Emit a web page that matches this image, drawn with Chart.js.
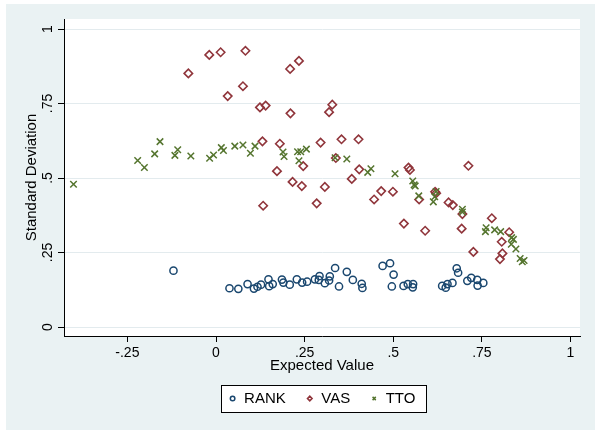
<!DOCTYPE html>
<html>
<head>
<meta charset="utf-8">
<script src="https://cdn.jsdelivr.net/npm/chart.js@4.4.1/dist/chart.umd.min.js"></script>
<style>
  html, body { margin: 0; padding: 0; background: #fff; }
</style>
</head>
<body>
<canvas id="chart" width="600" height="436"></canvas>
<script>
// ===== Data =====
const xTicks = [-0.25, 0, 0.25, 0.5, 0.75, 1];
const yTicks = [0, 0.25, 0.5, 0.75, 1];

const rankX = [-0.120, 0.038, 0.063, 0.089, 0.107, 0.117, 0.127, 0.148, 0.150, 0.160, 0.186, 0.190, 0.208, 0.228, 0.243, 0.257, 0.279, 0.292, 0.290, 0.307, 0.319, 0.321, 0.336, 0.347, 0.369, 0.386, 0.411, 0.413, 0.470, 0.491, 0.501, 0.496, 0.529, 0.541, 0.556, 0.555, 0.638, 0.648, 0.653, 0.667, 0.679, 0.683, 0.709, 0.720, 0.737, 0.738, 0.754];
const rankY = [0.189, 0.130, 0.128, 0.144, 0.129, 0.135, 0.142, 0.160, 0.137, 0.144, 0.159, 0.149, 0.142, 0.160, 0.149, 0.152, 0.160, 0.171, 0.158, 0.147, 0.156, 0.170, 0.198, 0.136, 0.185, 0.158, 0.145, 0.131, 0.205, 0.214, 0.176, 0.136, 0.138, 0.144, 0.144, 0.133, 0.138, 0.132, 0.144, 0.148, 0.197, 0.182, 0.155, 0.165, 0.158, 0.139, 0.148];

const vasX = [-0.078, -0.019, 0.013, 0.083, 0.033, 0.076, 0.124, 0.140, 0.209, 0.234, 0.210, 0.131, 0.180, 0.172, 0.216, 0.242, 0.133, 0.319, 0.328, 0.295, 0.354, 0.402, 0.338, 0.246, 0.404, 0.383, 0.543, 0.547, 0.712, 0.307, 0.466, 0.499, 0.618, 0.621, 0.284, 0.446, 0.573, 0.656, 0.668, 0.695, 0.530, 0.590, 0.693, 0.778, 0.726, 0.806, 0.827, 0.808, 0.801];
const vasY = [0.851, 0.913, 0.922, 0.927, 0.775, 0.808, 0.737, 0.743, 0.866, 0.893, 0.717, 0.623, 0.615, 0.523, 0.487, 0.473, 0.407, 0.721, 0.746, 0.619, 0.630, 0.630, 0.567, 0.540, 0.529, 0.497, 0.535, 0.527, 0.541, 0.470, 0.456, 0.454, 0.454, 0.449, 0.415, 0.428, 0.428, 0.418, 0.409, 0.379, 0.347, 0.323, 0.330, 0.365, 0.252, 0.286, 0.318, 0.247, 0.228];

const ttoX = [-0.402, -0.221, -0.202, -0.173, -0.158, -0.116, -0.108, -0.071, -0.018, -0.007, 0.015, 0.021, 0.053, 0.076, 0.097, 0.110, 0.189, 0.192, 0.230, 0.239, 0.255, 0.234, 0.336, 0.369, 0.428, 0.437, 0.505, 0.555, 0.559, 0.562, 0.572, 0.613, 0.617, 0.621, 0.695, 0.695, 0.762, 0.760, 0.786, 0.803, 0.834, 0.839, 0.833, 0.846, 0.858, 0.869, 0.864];
const ttoY = [0.479, 0.559, 0.535, 0.581, 0.622, 0.576, 0.595, 0.574, 0.566, 0.577, 0.602, 0.592, 0.607, 0.611, 0.583, 0.607, 0.587, 0.572, 0.588, 0.588, 0.597, 0.558, 0.568, 0.564, 0.519, 0.531, 0.514, 0.490, 0.477, 0.473, 0.440, 0.420, 0.437, 0.455, 0.395, 0.386, 0.333, 0.320, 0.326, 0.320, 0.300, 0.294, 0.278, 0.262, 0.230, 0.223, 0.219];

// ===== Helpers =====
const fontFamily = "'Liberation Sans', Arial, Helvetica, sans-serif";
const toPoints = (xs, ys) => xs.map((x, i) => ({ x, y: ys[i] }));
const stataLabel = v => (v === 0 ? '0' : String(v).replace('0.', '.'));

// Stata-like frame: bluish-gray graph region, white plot region, boxed legend
const stataFrame = {
  id: 'stataFrame',
  afterLayout(chart) {
    // centre the legend under the plot region instead of the whole canvas
    chart.legend.left = chart.chartArea.left;
    chart.legend.right = chart.chartArea.right;
  },
  beforeDraw(chart) {
    const { ctx, chartArea: a } = chart;
    ctx.save();
    ctx.fillStyle = '#ffffff';
    ctx.fillRect(0, 0, chart.width, chart.height);
    ctx.fillStyle = '#eaf2f3';
    ctx.fillRect(6, 4, 589, 426);
    ctx.fillStyle = '#ffffff';
    ctx.fillRect(a.left, a.top, a.right - a.left, a.bottom - a.top);

    const hb = chart.legend.legendHitBoxes;
    if (hb && hb.length) {
      const left = Math.min(...hb.map(b => b.left)) - 8;
      const right = Math.max(...hb.map(b => b.left + b.width)) + 10;
      const mid = hb[0].top + hb[0].height / 2;
      const x0 = Math.round(left) + 0.5, y0 = Math.round(mid - 13.5) + 0.5;
      const w = Math.round(right - left), h = 27;
      ctx.fillRect(x0, y0, w, h);
      ctx.strokeStyle = '#000';
      ctx.lineWidth = 1;
      ctx.strokeRect(x0, y0, w, h);
    }
    ctx.restore();
  },
};

const ctx = document.getElementById('chart').getContext('2d');
new Chart(ctx, {
  type: 'scatter',
  data: {
    datasets: [
      {
        label: 'RANK',
        data: toPoints(rankX, rankY),
        pointStyle: 'circle',
        pointRadius: 3.6,
        borderWidth: 1.5,
        borderColor: '#1a476f',
        backgroundColor: 'rgba(0,0,0,0)',
        order: 3,
      },
      {
        label: 'VAS',
        data: toPoints(vasX, vasY),
        pointStyle: 'rectRot',
        pointRadius: 4.2,
        borderWidth: 1.6,
        borderColor: '#90353b',
        backgroundColor: 'rgba(0,0,0,0)',
        order: 2,
      },
      {
        label: 'TTO',
        data: toPoints(ttoX, ttoY),
        pointStyle: 'crossRot',
        pointRadius: 4.6,
        borderWidth: 1.5,
        borderColor: '#55752f',
        backgroundColor: 'rgba(0,0,0,0)',
        order: 1,
      },
    ],
  },
  options: {
    responsive: false,
    animation: false,
    layout: { padding: { left: 6, right: 20, top: 19, bottom: 20 } },
    plugins: {
      tooltip: { enabled: false },
      legend: {
        position: 'bottom',
        labels: {
          usePointStyle: true,
          boxWidth: 8,
          boxHeight: 3.2,
          padding: 20,
          color: '#000',
          font: { family: fontFamily, size: 15 },
          sort: (a, b) => a.datasetIndex - b.datasetIndex,
        },
      },
    },
    scales: {
      x: {
        type: 'linear',
        min: -0.4288,
        max: 1.0268,
        afterBuildTicks: s => { s.ticks = xTicks.map(v => ({ value: v })); },
        afterFit: s => { s.height = 35; },
        grid: { drawOnChartArea: false, tickLength: 6, tickColor: '#000' },
        border: { color: '#000', width: 1 },
        ticks: {
          color: '#000',
          font: { family: fontFamily, size: 14 },
          padding: 3,
          maxRotation: 0,
          autoSkip: false,
          callback: stataLabel,
        },
        title: {
          display: true,
          text: 'Expected Value',
          color: '#000',
          font: { family: fontFamily, size: 15 },
          padding: { top: 0, bottom: -4 },
        },
      },
      y: {
        type: 'linear',
        min: -0.0302,
        max: 1.0336,
        afterBuildTicks: s => { s.ticks = yTicks.map(v => ({ value: v })); },
        afterFit: s => { s.width = 58; },
        grid: { color: '#e3ebee', lineWidth: 1, tickLength: 6, tickColor: '#000' },
        border: { color: '#000', width: 1 },
        ticks: {
          color: '#000',
          font: { family: fontFamily, size: 14 },
          padding: 0,
          minRotation: 90,
          maxRotation: 90,
          crossAlign: 'center',
          autoSkip: false,
          callback: stataLabel,
        },
        title: {
          display: true,
          text: 'Standard Deviation',
          color: '#000',
          font: { family: fontFamily, size: 15 },
          padding: { top: 17, bottom: 0 },
        },
      },
    },
  },
  plugins: [stataFrame],
});
</script>
</body>
</html>
